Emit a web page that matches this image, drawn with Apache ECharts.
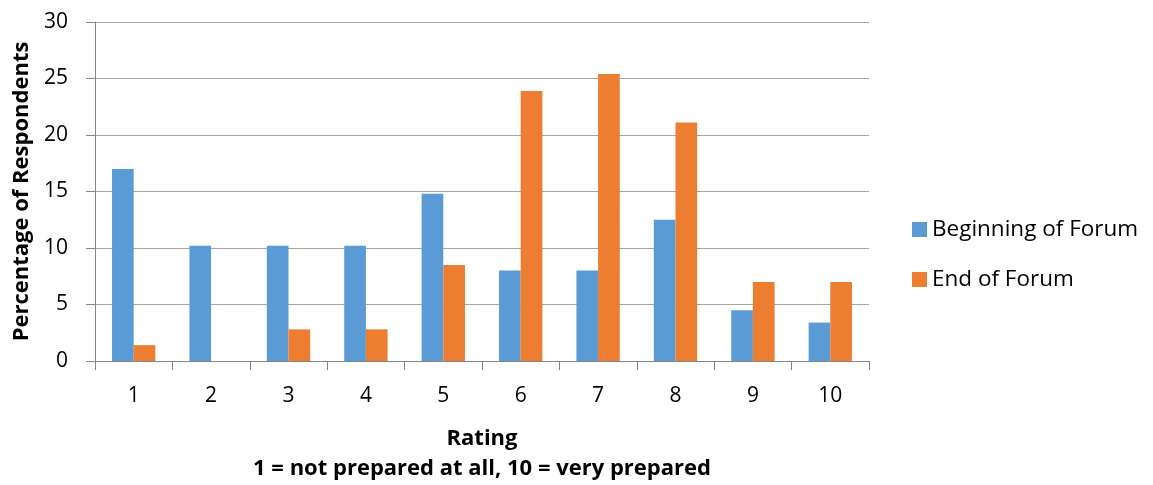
<!DOCTYPE html>
<html><head><meta charset="utf-8">
<script src="https://cdn.jsdelivr.net/npm/echarts@6/dist/echarts.min.js"></script>
<style>html,body{margin:0;padding:0;background:#fff}#c{width:1153px;height:485px}</style>
</head><body><div id="c"></div>
<script>
const categories = ['1','2','3','4','5','6','7','8','9','10'];
const beginning = [17.0, 10.2, 10.2, 10.2, 14.8, 8.0, 8.0, 12.5, 4.5, 3.4];
const endForum = [1.4, 0, 2.8, 2.8, 8.5, 23.9, 25.4, 21.1, 7.0, 7.0];
const yTicks = [0, 5, 10, 15, 20, 25, 30];
const seriesNames = ['Beginning of Forum', 'End of Forum'];
const xName = 'Rating';
const xSub = '1 = not prepared at all, 10 = very prepared';
const yName = 'Percentage of Respondents';

const FONT = 'Open Sans';
const FS = 22;
const chart = echarts.init(document.getElementById('c'), null, {renderer:'canvas'});
chart.setOption({
  animation: false,
  textStyle: {fontFamily: FONT},
  grid: {left: 95, right: 284, top: 22, bottom: 124, outerBoundsMode: 'none', containLabel: false},
  legend: {
    orient: 'vertical', left: 907, top: 213, itemWidth: 15, itemHeight: 15, itemGap: 27,
    icon: 'rect',
    textStyle: {fontFamily: FONT, fontSize: 22.5, color: '#000'},
    data: seriesNames
  },
  xAxis: {
    type: 'category', data: categories,
    axisLine: {lineStyle: {color: '#868686', width: 1}},
    axisTick: {show: true, length: 9, lineStyle: {color: '#868686'}},
    axisLabel: {fontFamily: FONT, fontSize: 21, color: '#000', margin: 25},
    name: '{a|' + xName + '}\n{b|' + xSub + '}',
    nameLocation: 'middle', nameGap: 63,
    nameTextStyle: {
      rich: {
        a: {fontFamily: FONT, fontSize: FS, fontWeight: 'bold', color: '#000', lineHeight: 30},
        b: {fontFamily: FONT, fontSize: FS, fontWeight: 'bold', color: '#000', lineHeight: 30}
      }
    }
  },
  yAxis: {
    type: 'value', min: yTicks[0], max: yTicks[yTicks.length-1], interval: 5,
    axisLine: {show: true, lineStyle: {color: '#868686'}},
    axisTick: {show: true, length: 9, lineStyle: {color: '#868686'}},
    axisLabel: {fontFamily: FONT, fontSize: 21, color: '#000', margin: 27},
    splitLine: {lineStyle: {color: '#A6A6A6', width: 1}},
    name: yName, nameLocation: 'middle', nameGap: 62,
    nameTextStyle: {fontFamily: FONT, fontSize: FS, fontWeight: 'bold', color: '#000'}
  },
  series: [
    {name: seriesNames[0], type: 'bar', data: beginning, barGap: '0%', barCategoryGap: '44%',
     itemStyle: {color: '#5B9BD5'}},
    {name: seriesNames[1], type: 'bar', data: endForum, barGap: '0%', barCategoryGap: '44%',
     itemStyle: {color: '#ED7D31'}}
  ]
});
</script></body></html>
